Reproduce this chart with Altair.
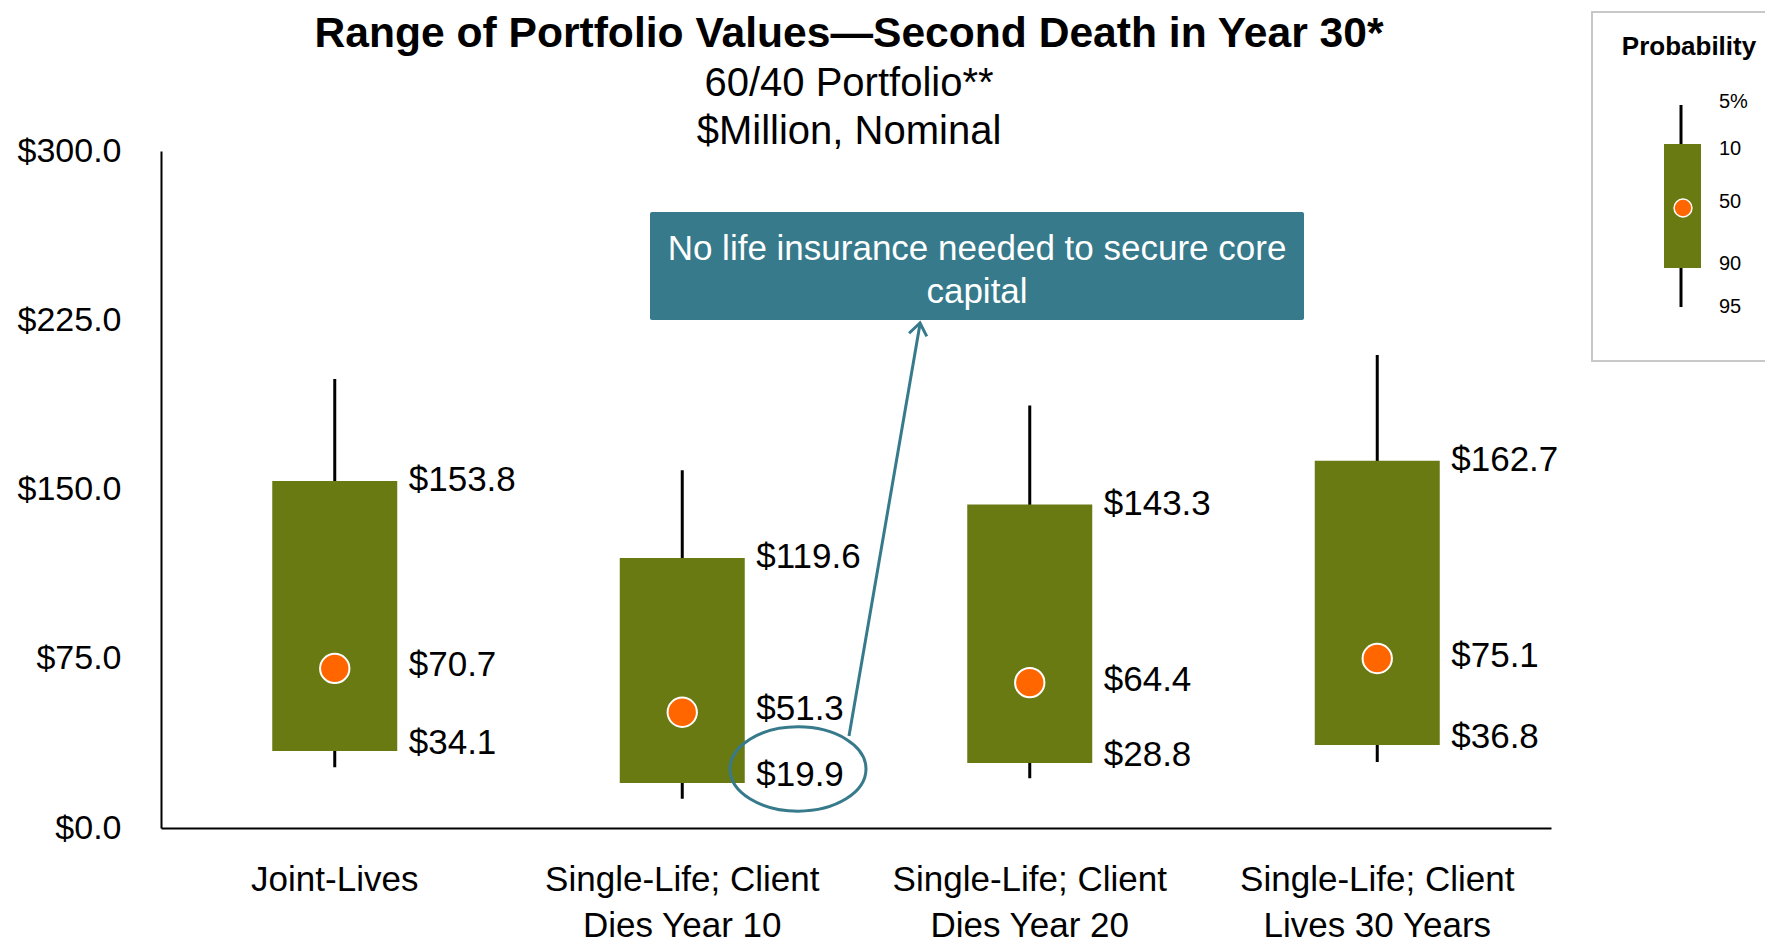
import altair as alt
import pandas as pd

# ---- data ----
categories = [
    "Joint-Lives",
    "Single-Life; Client|Dies Year 10",
    "Single-Life; Client|Dies Year 20",
    "Single-Life; Client|Lives 30 Years",
]
p5 = [199.0, 158.5, 187.2, 209.6]     # top whisker (5%)
p10 = [153.8, 119.6, 143.3, 162.7]    # box top (10)
p50 = [70.7, 51.3, 64.4, 75.1]        # median dot (50)
p90 = [34.1, 19.9, 28.8, 36.8]        # box bottom (90)
p95 = [26.9, 13.0, 22.1, 29.2]        # bottom whisker (95)
y_ticks = [0, 75, 150, 225, 300]
legend_labels = ["5%", "10", "50", "90", "95"]
title_text = "Range of Portfolio Values\u2014Second Death in Year 30*"
subtitle_lines = ["60/40 Portfolio**", "$Million, Nominal"]
callout_lines = ["No life insurance needed to secure core", "capital"]

df = pd.DataFrame({"cat": categories, "p5": p5, "p10": p10, "p50": p50,
                   "p90": p90, "p95": p95})

FONT = "Liberation Sans"
OLIVE = "#697a13"
ORANGE = "#ff6600"
TEAL = "#367a8b"
one = alt.InlineData(values=[{"k": 1}])

x_enc = alt.X(
    "cat:N", sort=categories,
    scale=alt.Scale(paddingInner=0, paddingOuter=0),
    axis=alt.Axis(title=None, labelAngle=0, labelExpr="split(datum.label, '|')",
                  labelFont=FONT, labelFontSize=35, labelColor="black",
                  labelPadding=34, labelLineHeight=46, labelLimit=0,
                  labelOverlap=False, ticks=False, domainColor="black",
                  domainWidth=2),
)


def y_enc(field):
    return alt.Y(
        f"{field}:Q",
        scale=alt.Scale(domain=[0, 300], nice=False, zero=True),
        axis=alt.Axis(title=None, values=y_ticks, format="$.1f", grid=False,
                      ticks=False, labelFont=FONT, labelFontSize=34,
                      labelColor="black", labelPadding=40,
                      domainColor="black", domainWidth=2),
    )


base = alt.Chart(df)

whisker = base.mark_rule(color="black", strokeWidth=3).encode(
    x=x_enc, y=y_enc("p95"), y2="p5:Q")
box = base.mark_bar(color=OLIVE, size=125).encode(
    x=x_enc, y=y_enc("p90"), y2="p10:Q")
dot = base.mark_point(shape="circle", filled=True, fill=ORANGE, stroke="white",
                      strokeWidth=2, size=860, opacity=1).encode(
    x=x_enc, y=y_enc("p50"))


def value_labels(field, dy):
    return base.mark_text(align="left", baseline="middle", dx=74, dy=dy,
                          font=FONT, fontSize=35, color="black").encode(
        x=x_enc, y=y_enc(field), text=alt.Text(f"{field}:Q", format="$.1f"))


lab_top = value_labels("p10", -1)
lab_mid = value_labels("p50", -3)
lab_bot = value_labels("p90", -8)


def text_at(txt, x, y, size, weight="normal", color="black", align="center"):
    return alt.Chart(one).mark_text(text=txt, font=FONT, fontSize=size,
                                    fontWeight=weight, color=color,
                                    align=align, baseline="middle").encode(
        x=alt.value(x), y=alt.value(y))


# ---- title block ----
title_t = text_at(title_text, 688, -117, 42.6, weight="bold")
sub_1 = text_at(subtitle_lines[0], 688, -67, 40)
sub_2 = text_at(subtitle_lines[1], 688, -19, 40)

# ---- callout ----
callout_box = alt.Chart(one).mark_rect(fill=TEAL, cornerRadius=2).encode(
    x=alt.value(489), x2=alt.value(1143), y=alt.value(61), y2=alt.value(169))
callout_t1 = text_at(callout_lines[0], 816, 98, 35, color="white")
callout_t2 = text_at(callout_lines[1], 816, 141, 35, color="white")
arrow_line = alt.Chart(one).mark_rule(color=TEAL, strokeWidth=3).encode(
    x=alt.value(688), y=alt.value(585), x2=alt.value(759), y2=alt.value(173))
arrow_head = alt.Chart(one).mark_point(
    shape="M -0.6 0.8 L 0 0 L 0.6 0.8", filled=False, stroke=TEAL,
    strokeWidth=3, size=900, angle=10, opacity=1).encode(
    x=alt.value(759), y=alt.value(172))
ellipse = alt.Chart(one).mark_point(
    shape="M -1 0 A 1 0.62 0 1 1 1 0 A 1 0.62 0 1 1 -1 0 Z", filled=False,
    stroke=TEAL, strokeWidth=3, size=136 * 136, opacity=1).encode(
    x=alt.value(637), y=alt.value(618))

# ---- hand-drawn legend ----
leg_frame = alt.Chart(one).mark_rect(fill="white", stroke="#c8c8c8",
                                     strokeWidth=2).encode(
    x=alt.value(1431), x2=alt.value(1680), y=alt.value(-139), y2=alt.value(210))
leg_title = text_at("Probability", 1528, -104, 26, weight="bold")
leg_whisker = alt.Chart(one).mark_rule(color="black", strokeWidth=3).encode(
    x=alt.value(1520), y=alt.value(-46), y2=alt.value(156))
leg_box = alt.Chart(one).mark_rect(fill=OLIVE).encode(
    x=alt.value(1503), x2=alt.value(1540), y=alt.value(-7), y2=alt.value(117))
leg_dot = alt.Chart(one).mark_point(shape="circle", filled=True, fill=ORANGE,
                                    stroke="white", strokeWidth=1.5, size=320,
                                    opacity=1).encode(
    x=alt.value(1522), y=alt.value(57))
leg_y = [-49, -2, 51, 113, 156]
leg_texts = [text_at(t, 1558, yy, 20, align="left")
             for t, yy in zip(legend_labels, leg_y)]

chart = alt.layer(
    whisker, box, dot, lab_top, lab_mid, lab_bot,
    title_t, sub_1, sub_2,
    callout_box, callout_t1, callout_t2, arrow_line, arrow_head, ellipse,
    leg_frame, leg_title, leg_whisker, leg_box, leg_dot, *leg_texts,
).properties(
    width=1390, height=677,
    padding={"left": 153, "top": 143, "right": 214, "bottom": 114},
    autosize=alt.AutoSizeParams(type="none"),
    background="white",
).configure_view(stroke=None)

chart.save("out.html", embed_options={"renderer": "svg", "actions": False})
